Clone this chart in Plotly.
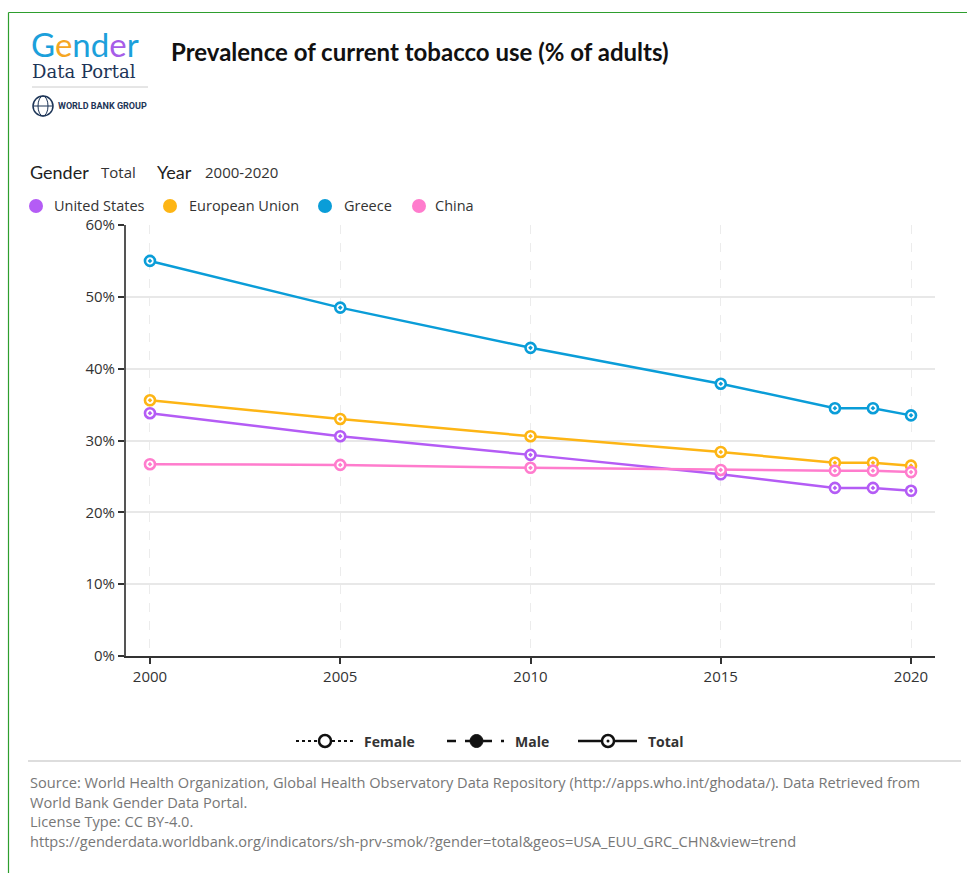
import plotly.graph_objects as go

# Prevalence of current tobacco use (% of adults), total, 2000-2020
years = [2000, 2005, 2010, 2015, 2018, 2019, 2020]
united_states = [33.8, 30.6, 28.0, 25.3, 23.4, 23.4, 23.0]
european_union = [35.6, 33.0, 30.6, 28.4, 26.9, 26.9, 26.5]
greece = [55.0, 48.5, 42.9, 37.9, 34.5, 34.5, 33.5]
china = [26.7, 26.6, 26.2, 25.9, 25.8, 25.8, 25.6]

series_names = ["United States", "European Union", "Greece", "China"]
series_values = [united_states, european_union, greece, china]
series_colors = ["#b45cf5", "#fdb515", "#0a9dd8", "#ff7ccd"]

x_ticks = [2000, 2005, 2010, 2015, 2020]
y_ticks = [0, 10, 20, 30, 40, 50, 60]
y_tick_labels = ["0%", "10%", "20%", "30%", "40%", "50%", "60%"]

W, H = 967, 873
L, R, T, B = 126, 935, 225, 656


def px(x):
    return (x - L) / (R - L)


def py(y):
    return (B - y) / (B - T)


fig = go.Figure()
for name, vals, col in zip(series_names, series_values, series_colors):
    fig.add_trace(go.Scatter(
        x=years, y=vals, name=name, mode="lines+markers",
        line=dict(color=col, width=2.5),
        marker=dict(symbol="circle-dot", size=10, color="white",
                    line=dict(color=col, width=2.6)),
        showlegend=False, cliponaxis=False,
    ))

shapes = []
annotations = []

# outer frame (left and top edges)
shapes.append(dict(type="line", xref="paper", yref="paper",
                   x0=px(8.5), x1=px(W + 5), y0=py(12.5), y1=py(12.5),
                   line=dict(color="#2e9e2e", width=1.2)))
shapes.append(dict(type="line", xref="paper", yref="paper",
                   x0=px(8.5), x1=px(8.5), y0=py(12.5), y1=py(H + 5),
                   line=dict(color="#2e9e2e", width=1.2)))

# logo block
annotations.append(dict(
    xref="paper", yref="paper", x=px(29), y=py(44), xanchor="left", yanchor="middle",
    text=("<span style='color:#1ca0db'>G</span><span style='color:#f5a623'>e</span>"
          "<span style='color:#1ca0db'>nd</span><span style='color:#a65de8'>e</span>"
          "<span style='color:#1ca0db'>r</span>"),
    showarrow=False, font=dict(family="Lato", size=33, color="#1ca0db")))
annotations.append(dict(
    xref="paper", yref="paper", x=px(30), y=py(71), xanchor="left", yanchor="middle",
    text="Data Portal", showarrow=False,
    font=dict(family="DejaVu Serif", size=18, color="#1d3557")))
shapes.append(dict(type="line", xref="paper", yref="paper",
                   x0=px(32), x1=px(148), y0=py(87), y1=py(87),
                   line=dict(color="#cccccc", width=1)))
shapes.append(dict(type="circle", xref="paper", yref="paper",
                   x0=px(33), x1=px(53), y0=py(96), y1=py(116),
                   line=dict(color="#1d3557", width=1.5), fillcolor="white"))
shapes.append(dict(type="circle", xref="paper", yref="paper",
                   x0=px(38), x1=px(48), y0=py(96), y1=py(116),
                   line=dict(color="#1d3557", width=1)))
shapes.append(dict(type="line", xref="paper", yref="paper",
                   x0=px(33), x1=px(53), y0=py(106), y1=py(106),
                   line=dict(color="#1d3557", width=1)))
annotations.append(dict(
    xref="paper", yref="paper", x=px(56), y=py(106), xanchor="left", yanchor="middle",
    text="<b>WORLD BANK GROUP</b>", showarrow=False,
    font=dict(family="Roboto", size=9, color="#1d3557")))

# title
annotations.append(dict(
    xref="paper", yref="paper", x=px(169), y=py(52), xanchor="left", yanchor="middle",
    text="<b>Prevalence of current tobacco use (% of adults)</b>", showarrow=False,
    font=dict(family="Lato", size=24, color="#111111")))

# filter summary
annotations.append(dict(
    xref="paper", yref="paper", x=px(28), y=py(172), xanchor="left", yanchor="middle",
    text="Gender", showarrow=False, font=dict(family="Lato", size=18, color="#222222")))
annotations.append(dict(
    xref="paper", yref="paper", x=px(99), y=py(172), xanchor="left", yanchor="middle",
    text="Total", showarrow=False, font=dict(family="Open Sans", size=15, color="#333333")))
annotations.append(dict(
    xref="paper", yref="paper", x=px(155), y=py(172), xanchor="left", yanchor="middle",
    text="Year", showarrow=False, font=dict(family="Lato", size=18, color="#222222")))
annotations.append(dict(
    xref="paper", yref="paper", x=px(203), y=py(172), xanchor="left", yanchor="middle",
    text="2000-2020", showarrow=False, font=dict(family="Open Sans", size=15, color="#333333")))

# series legend row
dot_x = [36, 170, 325, 419]
text_x = [52, 187, 342, 433]
for name, col, dx, tx in zip(series_names, series_colors, dot_x, text_x):
    shapes.append(dict(type="circle", xref="paper", yref="paper",
                       x0=px(dx - 7), x1=px(dx + 7), y0=py(199), y1=py(213),
                       fillcolor=col, line=dict(width=0)))
    annotations.append(dict(
        xref="paper", yref="paper", x=px(tx), y=py(206), xanchor="left", yanchor="middle",
        text=name, showarrow=False, font=dict(family="Open Sans", size=14.5, color="#333333")))

# gender line-style key
ky = 741
shapes.append(dict(type="line", xref="paper", yref="paper",
                   x0=px(296), x1=px(353), y0=py(ky), y1=py(ky),
                   line=dict(color="#111111", width=2, dash="dot")))
shapes.append(dict(type="circle", xref="paper", yref="paper",
                   x0=px(319), x1=px(331), y0=py(ky - 6), y1=py(ky + 6),
                   fillcolor="white", line=dict(color="#111111", width=2.5)))
annotations.append(dict(
    xref="paper", yref="paper", x=px(362), y=py(ky), xanchor="left", yanchor="middle",
    text="<b>Female</b>", showarrow=False, font=dict(family="Open Sans", size=14, color="#333333")))

shapes.append(dict(type="line", xref="paper", yref="paper",
                   x0=px(447), x1=px(504), y0=py(ky), y1=py(ky),
                   line=dict(color="#111111", width=2.5, dash="dash")))
shapes.append(dict(type="circle", xref="paper", yref="paper",
                   x0=px(470), x1=px(483), y0=py(ky - 6.5), y1=py(ky + 6.5),
                   fillcolor="#111111", line=dict(color="#111111", width=1)))
annotations.append(dict(
    xref="paper", yref="paper", x=px(513), y=py(ky), xanchor="left", yanchor="middle",
    text="<b>Male</b>", showarrow=False, font=dict(family="Open Sans", size=14, color="#333333")))

shapes.append(dict(type="line", xref="paper", yref="paper",
                   x0=px(578), x1=px(637), y0=py(ky), y1=py(ky),
                   line=dict(color="#111111", width=2.5)))
shapes.append(dict(type="circle", xref="paper", yref="paper",
                   x0=px(602), x1=px(614), y0=py(ky - 6), y1=py(ky + 6),
                   fillcolor="white", line=dict(color="#111111", width=2.5)))
shapes.append(dict(type="circle", xref="paper", yref="paper",
                   x0=px(606.5), x1=px(609.5), y0=py(ky - 1.5), y1=py(ky + 1.5),
                   fillcolor="#111111", line=dict(width=0)))
annotations.append(dict(
    xref="paper", yref="paper", x=px(646), y=py(ky), xanchor="left", yanchor="middle",
    text="<b>Total</b>", showarrow=False, font=dict(family="Open Sans", size=14, color="#333333")))

# separator and source notes
shapes.append(dict(type="line", xref="paper", yref="paper",
                   x0=px(28), x1=px(961), y0=py(761), y1=py(761),
                   line=dict(color="#dddddd", width=2)))
source_lines = [
    "Source: World Health Organization, Global Health Observatory Data Repository (http://apps.who.int/ghodata/). Data Retrieved from",
    "World Bank Gender Data Portal.",
    "License Type: CC BY-4.0.",
    "https://genderdata.worldbank.org/indicators/sh-prv-smok/?gender=total&geos=USA_EUU_GRC_CHN&view=trend",
]
for i, line in enumerate(source_lines):
    annotations.append(dict(
        xref="paper", yref="paper", x=px(28), y=py(782 + i * 19.7), xanchor="left", yanchor="middle",
        text=line, showarrow=False, font=dict(family="Open Sans", size=14.6, color="#777777")))

fig.update_layout(
    width=W, height=H,
    margin=dict(l=L, r=W - R, t=T, b=H - B, pad=0),
    paper_bgcolor="white", plot_bgcolor="white",
    showlegend=False,
    shapes=shapes, annotations=annotations,
    font=dict(family="Open Sans", size=15, color="#333333"),
    xaxis=dict(
        range=[1999.37, 2020.63], tickvals=x_ticks, ticktext=[str(v) for v in x_ticks],
        showgrid=True, gridcolor="#ececec", gridwidth=1, griddash="dash",
        showline=True, linecolor="#333333", linewidth=1.5,
        ticks="outside", ticklen=6, tickwidth=1.5, tickcolor="#333333",
        tickfont=dict(family="Open Sans", size=15, color="#333333"),
        zeroline=False, fixedrange=True,
    ),
    yaxis=dict(
        range=[0, 60], tickvals=y_ticks, ticktext=y_tick_labels,
        showgrid=True, gridcolor="#e8e8e8", gridwidth=1.5,
        showline=True, linecolor="#555555", linewidth=2,
        ticks="outside", ticklen=6, tickwidth=1.5, tickcolor="#333333",
        tickfont=dict(family="Open Sans", size=15, color="#333333"),
        zeroline=False, fixedrange=True,
    ),
)

fig.write_html("out.html", config={"displayModeBar": False})
